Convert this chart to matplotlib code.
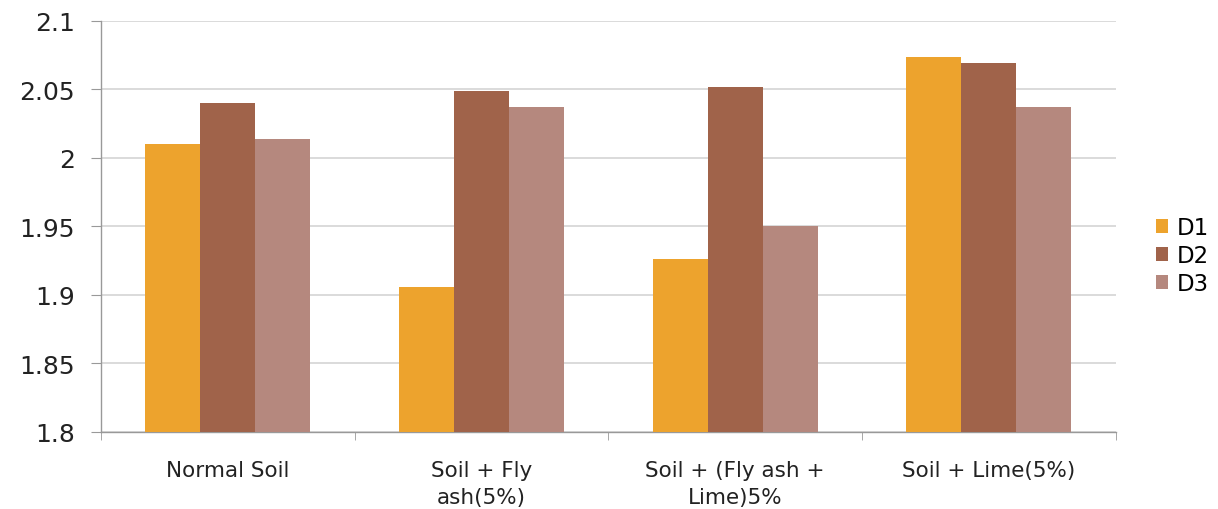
import matplotlib
matplotlib.use("Agg")
import matplotlib.pyplot as plt
import numpy as np

# Dry density per mix, three trials
categories = ["Normal Soil", "Soil + Fly\nash(5%)", "Soil + (Fly ash +\nLime)5%", "Soil + Lime(5%)"]
d1 = [2.010, 1.906, 1.926, 2.074]
d2 = [2.040, 2.049, 2.052, 2.069]
d3 = [2.014, 2.037, 1.950, 2.037]
series_names = ["D1", "D2", "D3"]
yticks = [1.8, 1.85, 1.9, 1.95, 2.0, 2.05, 2.1]
ytick_labels = ["1.8", "1.85", "1.9", "1.95", "2", "2.05", "2.1"]

colors = ["#EDA32D", "#A0634A", "#B5887E"]

plt.rcParams["font.family"] = ["DejaVu Sans"]

fig = plt.figure(figsize=(12.18, 5.10), dpi=100)
ax = fig.add_axes([0.083, 0.151, 0.833, 0.806])

x = np.arange(len(categories))
width = 0.217
for i, (vals, name) in enumerate(zip([d1, d2, d3], series_names)):
    ax.bar(x + (i - 1) * width, np.array(vals) - 1.8, width, bottom=1.8,
           color=colors[i], label=name, zorder=3)

ax.set_xlim(-0.5, len(categories) - 0.5)
ax.set_ylim(1.8, 2.1)
ax.set_yticks(yticks)
ax.set_yticklabels(ytick_labels, fontsize=18, color="#222222")
ax.set_xticks(x)
ax.set_xticklabels(categories, fontsize=15.5, color="#222222", linespacing=1.45)
ax.set_xticks(np.arange(-0.5, len(categories)), minor=True)
ax.tick_params(axis="x", which="major", length=0, pad=20)
ax.tick_params(axis="x", which="minor", length=6, color="#999999")
ax.tick_params(axis="y", length=7, color="#999999", pad=12)

ax.grid(axis="y", color="#D4D4D4", linewidth=1.2, zorder=0)
for side in ["top", "right"]:
    ax.spines[side].set_visible(False)
for side in ["left", "bottom"]:
    ax.spines[side].set_color("#999999")
    ax.spines[side].set_linewidth(1.0)

fig.legend(loc="center left", bbox_to_anchor=(0.932, 0.497), frameon=False,
           fontsize=16.5, handlelength=0.55, handleheight=0.55, handletextpad=0.35,
           labelspacing=0.22)

fig.savefig("out.png", dpi=100)
